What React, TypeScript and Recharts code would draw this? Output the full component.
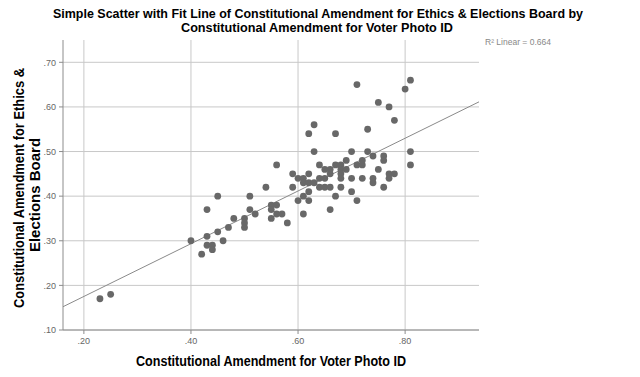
import React from 'react';
import { ScatterChart, Scatter, XAxis, YAxis, CartesianGrid, ReferenceLine } from 'recharts';

// share of yes votes per county
const voterPhotoId = [
  0.23, 0.25, 0.4, 0.42, 0.43, 0.43, 0.44, 0.44, 0.45, 0.46, 0.47, 0.48, 0.5, 0.5, 0.5,
  0.43, 0.45, 0.51, 0.51, 0.52, 0.54, 0.55, 0.56, 0.55, 0.55, 0.56, 0.57, 0.58, 0.56,
  0.59, 0.59, 0.6, 0.61, 0.62, 0.61, 0.62, 0.63, 0.62, 0.61, 0.6, 0.62, 0.61, 0.63, 0.62,
  0.63, 0.64, 0.65, 0.66, 0.66, 0.64, 0.65, 0.64, 0.65, 0.66, 0.66, 0.67, 0.68, 0.68,
  0.68, 0.68, 0.68, 0.67, 0.67, 0.69, 0.69, 0.7, 0.7, 0.7, 0.71, 0.72, 0.72, 0.72, 0.71,
  0.71, 0.73, 0.73, 0.74, 0.74, 0.74, 0.75, 0.75, 0.76, 0.76, 0.76, 0.77, 0.78, 0.77,
  0.77, 0.78, 0.8, 0.81, 0.81, 0.81,
];
const ethicsBoard = [
  0.17, 0.18, 0.3, 0.27, 0.31, 0.29, 0.29, 0.28, 0.32, 0.3, 0.33, 0.35, 0.35, 0.34, 0.33,
  0.37, 0.4, 0.4, 0.37, 0.36, 0.42, 0.38, 0.38, 0.37, 0.35, 0.36, 0.36, 0.34, 0.47,
  0.45, 0.42, 0.44, 0.44, 0.45, 0.43, 0.43, 0.43, 0.41, 0.4, 0.39, 0.39, 0.36, 0.5, 0.54,
  0.56, 0.47, 0.46, 0.46, 0.45, 0.44, 0.44, 0.42, 0.42, 0.42, 0.37, 0.47, 0.47, 0.46,
  0.45, 0.44, 0.42, 0.4, 0.54, 0.48, 0.46, 0.44, 0.41, 0.5, 0.47, 0.47, 0.48, 0.44, 0.39,
  0.65, 0.55, 0.5, 0.49, 0.44, 0.43, 0.46, 0.61, 0.49, 0.48, 0.42, 0.45, 0.45, 0.44,
  0.6, 0.57, 0.64, 0.66, 0.5, 0.47,
];

const xTicks = [0.2, 0.4, 0.6, 0.8];
const yTicks = [0.1, 0.2, 0.3, 0.4, 0.5, 0.6, 0.7];

// fit line as drawn in the reference
const fitIntercept = 0.057;
const fitSlope = 0.591;
const rSquared = '0.664';

const xMin = 0.161;
const xMax = 0.938;

const points = voterPhotoId.map((x, i) => ({ x, y: ethicsBoard[i] }));
const fmt = (v: number) => v.toFixed(2).replace(/^0/, '');

const labelFont = '"Liberation Sans Narrow", "Liberation Sans", Arial, sans-serif';

const Dot = (props: any) => <circle cx={props.cx} cy={props.cy} r={3.4} fill="#686868" />;

export default function App() {
  return (
    <div style={{ position: 'absolute', left: 0, top: 0, width: 640, height: 377, background: '#fff' }}>
      <ScatterChart width={640} height={377} margin={{ top: 40, right: 161, bottom: 0, left: 0 }}>
        <CartesianGrid stroke="#c8c8c8" horizontalValues={yTicks} verticalValues={xTicks} />
        <XAxis
          type="number"
          dataKey="x"
          domain={[xMin, xMax]}
          ticks={xTicks}
          allowDataOverflow
          height={47}
          tickFormatter={fmt}
          stroke="#8c8c8c"
          tickSize={4}
          tickMargin={4}
          tick={{ fontSize: 9, fill: '#666', fontFamily: 'Liberation Sans, Arial' }}
        />
        <YAxis
          type="number"
          dataKey="y"
          domain={[0.1, 0.75]}
          ticks={yTicks}
          allowDataOverflow
          width={63}
          tickFormatter={fmt}
          stroke="#8c8c8c"
          tickSize={4}
          tickMargin={3}
          tick={{ fontSize: 9, fill: '#666', fontFamily: 'Liberation Sans, Arial' }}
        />
        <ReferenceLine
          segment={[
            { x: xMin, y: fitIntercept + fitSlope * xMin },
            { x: xMax, y: fitIntercept + fitSlope * xMax },
          ]}
          stroke="#8a8a8a"
          strokeWidth={1}
          ifOverflow="hidden"
        />
        <Scatter data={points} shape={<Dot />} isAnimationActive={false} />
      </ScatterChart>
      <svg
        width={640}
        height={377}
        style={{ position: 'absolute', left: 0, top: 0, pointerEvents: 'none' }}
        fontFamily={labelFont}
        fontWeight="bold"
      >
        <text x={318} y={18} textAnchor="middle" fontSize={12.5} textLength={530} lengthAdjust="spacingAndGlyphs">
          Simple Scatter with Fit Line of Constitutional Amendment for Ethics &amp; Elections Board by
        </text>
        <text x={317} y={32} textAnchor="middle" fontSize={12.5} textLength={272} lengthAdjust="spacingAndGlyphs">
          Constitutional Amendment for Voter Photo ID
        </text>
        <text x={271} y={366} textAnchor="middle" fontSize={14} textLength={270} lengthAdjust="spacingAndGlyphs">
          Constitutional Amendment for Voter Photo ID
        </text>
        <text
          transform="translate(24,188) rotate(-90)"
          textAnchor="middle"
          fontSize={15}
          textLength={240}
          lengthAdjust="spacingAndGlyphs"
        >
          Constitutional Amendment for Ethics &amp;
        </text>
        <text transform="translate(40,195) rotate(-90)" textAnchor="middle" fontSize={15}>
          Elections Board
        </text>
        <text x={485} y={45} fontSize={8.5} fill="#888" fontWeight="normal" fontFamily="Liberation Sans, Arial">
          R² Linear = {rSquared}
        </text>
      </svg>
    </div>
  );
}
